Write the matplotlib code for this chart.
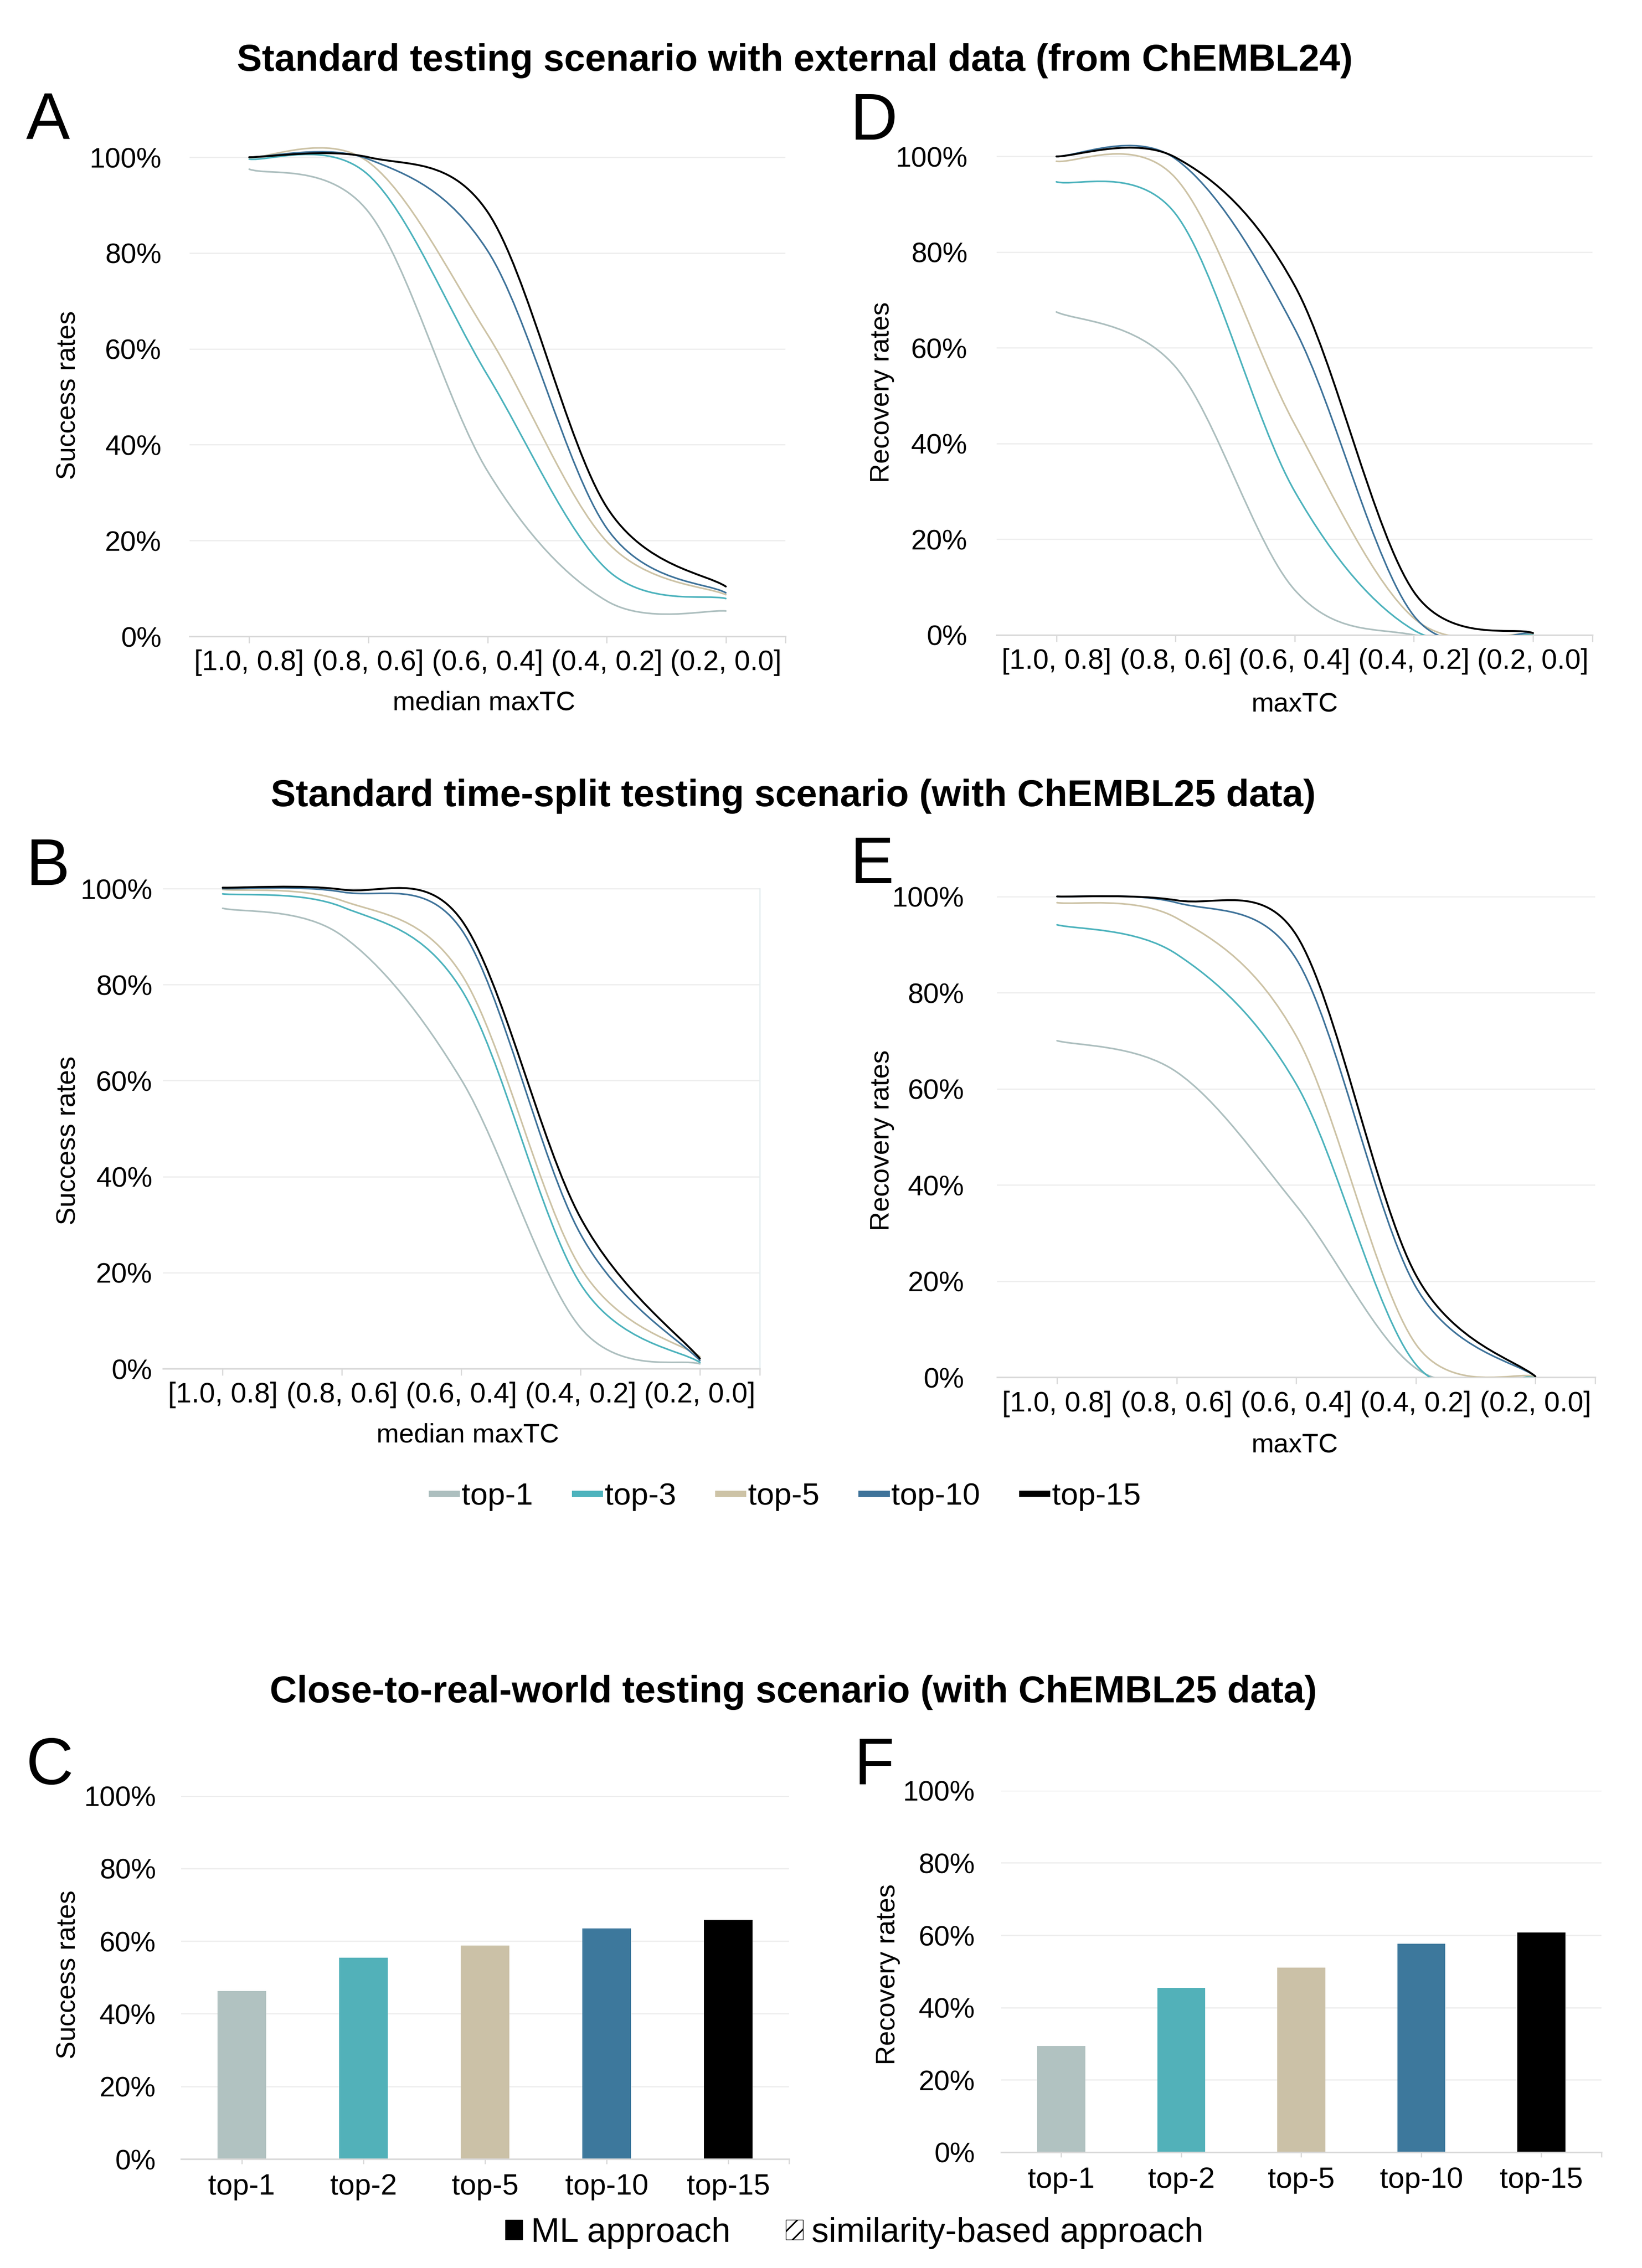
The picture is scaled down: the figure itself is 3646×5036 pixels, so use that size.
import matplotlib
matplotlib.use("Agg")
import matplotlib.pyplot as plt
from matplotlib.patches import Patch, PathPatch
from matplotlib.path import Path
from matplotlib.lines import Line2D
import numpy as np

plt.rcParams["font.family"] = ["Liberation Sans", "DejaVu Sans"]

# ---------------- data ----------------
bins = ["[1.0, 0.8]", "(0.8, 0.6]", "(0.6, 0.4]", "(0.4, 0.2]", "(0.2, 0.0]"]
series_names = ["top-1", "top-3", "top-5", "top-10", "top-15"]

# A: success rates vs median maxTC (ChEMBL24 external data)
A_top1 = [97.5, 88.6, 34.5, 7.4, 5.3]
A_top3 = [99.6, 96.3, 54.5, 14.0, 7.9]
A_top5 = [99.9, 99.0, 63.0, 19.8, 8.7]
A_top10 = [100.0, 99.6, 80.5, 22.6, 9.1]
A_top15 = [100.0, 100.0, 88.6, 27.0, 10.4]

# D: recovery rates vs maxTC (ChEMBL24 external data)
D_top1 = [67.5, 56.0, 9.4, 0.0, 0.0]
D_top3 = [94.7, 88.0, 30.0, 1.0, 0.2]
D_top5 = [99.0, 95.5, 44.0, 3.5, 0.3]
D_top10 = [100.0, 99.5, 64.0, 4.0, 0.4]
D_top15 = [100.0, 99.8, 73.0, 9.0, 0.4]

# B: success rates, time split (ChEMBL25)
B_top1 = [95.9, 90.2, 60.2, 8.5, 1.0]
B_top3 = [98.9, 96.2, 79.0, 17.6, 1.3]
B_top5 = [99.8, 97.5, 82.2, 21.0, 2.5]
B_top10 = [100.0, 99.3, 91.5, 28.0, 1.7]
B_top15 = [100.2, 99.8, 93.5, 31.4, 2.1]

# E: recovery rates, time split (ChEMBL25)
E_top1 = [70.0, 63.5, 35.7, 1.9, 0.0]
E_top3 = [94.1, 88.0, 61.0, 2.7, 0.2]
E_top5 = [98.7, 95.5, 71.0, 6.9, 0.2]
E_top10 = [100.0, 98.7, 87.0, 18.8, 0.2]
E_top15 = [100.0, 99.2, 92.0, 21.3, 0.2]

bar_cats = ["top-1", "top-2", "top-5", "top-10", "top-15"]
C_success = [46.3, 55.4, 58.8, 63.5, 65.9]
F_recovery = [29.4, 45.5, 51.1, 57.6, 60.7]

line_colors = ["#adbfbf", "#4db3bd", "#cdc3a6", "#3f739a", "#000000"]
line_widths = [2.6, 2.6, 2.6, 2.6, 3.0]
bar_colors = ["#b1c2c1", "#52b1b9", "#cbc1a7", "#3d789c", "#000000"]
GRID = "#eeeeee"
AXC = "#d9d9d9"

W, H = 1130.0, 1561.0  # layout reference units


def fx(x):
    return x / W


def fy(y):
    return 1 - y / H


fig = plt.figure(figsize=(36.46, 50.36), dpi=100)


def smooth_path(xs, ys, sx, sy):
    """Excel-style smoothed line: cubic Bezier through the points."""
    P = np.column_stack([np.asarray(xs, float) * sx, np.asarray(ys, float) * sy])
    n = len(P)
    verts = [P[0]]
    codes = [Path.MOVETO]
    for i in range(n - 1):
        p0 = P[i - 1] if i > 0 else P[i]
        p1, p2 = P[i], P[i + 1]
        p3 = P[i + 2] if i + 2 < n else P[i + 1]
        d02 = np.hypot(*(p2 - p0))
        d12 = np.hypot(*(p2 - p1))
        d13 = np.hypot(*(p3 - p1))
        f0 = 1 / 6 if d02 / 6 < d12 / 2 else (d12 / 2) / d02
        f1 = 1 / 6 if d13 / 6 < d12 / 2 else (d12 / 2) / d13
        c1 = p1 + (p2 - p0) * f0
        c2 = p2 - (p3 - p1) * f1
        verts += [c1, c2, p2]
        codes += [Path.CURVE4] * 3
    v = np.array(verts) / [sx, sy]
    return Path(v, codes)


def style_axes(ax, ylim_top, ypad, right_line=False):
    ax.set_ylim(0, ylim_top)
    ax.set_xlim(-0.5, 4.5)
    ax.set_yticks([0, 20, 40, 60, 80, 100])
    ax.set_yticklabels([f"{v}%" for v in [0, 20, 40, 60, 80, 100]])
    ax.yaxis.grid(True, color=GRID, linewidth=2)
    ax.set_axisbelow(True)
    for s in ["top", "left", "right"]:
        ax.spines[s].set_visible(False)
    if right_line:
        ax.spines["right"].set_visible(True)
        ax.spines["right"].set_color("#e6eef0")
        ax.spines["right"].set_linewidth(2)
        ax.spines["right"].set_bounds(0, 100)
    ax.spines["bottom"].set_color(AXC)
    ax.spines["bottom"].set_linewidth(2.5)
    ax.tick_params(axis="y", length=0, pad=ypad, labelsize=45)


def line_panel(rect, data, ypad, right_line=False):
    ax = fig.add_axes(rect)
    ytop = 103
    # display size of one x unit and one percent, for the smoothing
    sx = rect[2] * W / 5.0
    sy = rect[3] * H / ytop
    xs = np.arange(len(bins))
    for vals, c, lw in zip(data, line_colors, line_widths):
        path = smooth_path(xs, vals, sx, sy)
        ax.add_patch(PathPatch(path, facecolor="none", edgecolor=c, linewidth=lw,
                               capstyle="round", joinstyle="round", zorder=3))
    style_axes(ax, ytop, ypad, right_line)
    ax.set_xticks([0, 1, 2, 3, 4, 4.5])
    ax.set_xticklabels(bins + [""])
    ax.tick_params(axis="x", length=11, width=2, color=AXC, pad=10, labelsize=45)
    return ax


def bar_panel(rect, vals, ypad):
    ax = fig.add_axes(rect)
    ax.bar(range(len(bar_cats)), vals, width=0.4, color=bar_colors)
    style_axes(ax, 100, ypad)
    ax.set_xticks([0, 1, 2, 3, 4, 4.5])
    ax.set_xticklabels(bar_cats + [""])
    ax.tick_params(axis="x", length=8, width=2, color=AXC, pad=15, labelsize=47)
    return ax


# axes rectangle from layout units (left, y of 0% line, width, units per %, top %)
def rect(left, y0, width, per, top):
    return [fx(left), fy(y0), width / W, per * top / H]


line_panel(rect(130.5, 438, 410, 3.298, 103), [A_top1, A_top3, A_top5, A_top10, A_top15], 45)
line_panel(rect(686, 437, 410, 3.293, 103), [D_top1, D_top3, D_top5, D_top10, D_top15], 47)
line_panel(rect(112.2, 942, 410.5, 3.304, 103), [B_top1, B_top3, B_top5, B_top10, B_top15], 17,
           right_line=True)
line_panel(rect(686.3, 948, 411.5, 3.31, 103), [E_top1, E_top3, E_top5, E_top10, E_top15], 53)
bar_panel(rect(124.5, 1486, 418.5, 2.5, 100), C_success, 40)
bar_panel(rect(689, 1481.3, 413, 2.489, 100), F_recovery, 42)

# titles
title_kw = dict(ha="center", va="center", fontsize=60, fontweight="bold")
fig.text(fx(547), fy(42), "Standard testing scenario with external data (from ChEMBL24)", **title_kw)
fig.text(fx(546), fy(548), "Standard time-split testing scenario (with ChEMBL25 data)", **title_kw)
fig.text(fx(546), fy(1165), "Close-to-real-world testing scenario (with ChEMBL25 data)", **title_kw)

# panel letters
for letter, x, y in [("A", 18, 96), ("D", 585, 96), ("B", 18, 609), ("E", 585, 608),
                     ("C", 18, 1228), ("F", 588, 1228)]:
    fig.text(fx(x), fy(y), letter, ha="left", va="baseline", fontsize=105)

# axis labels
for txt, x, y in [("Success rates", 47, 272), ("Recovery rates", 607, 270),
                  ("Success rates", 47, 785), ("Recovery rates", 607, 785),
                  ("Success rates", 47, 1359), ("Recovery rates", 611, 1359)]:
    fig.text(fx(x), fy(y), txt, rotation=90, ha="center", va="center", fontsize=43)

for txt, x, y in [("median maxTC", 333, 484), ("maxTC", 891, 485),
                  ("median maxTC", 322, 988), ("maxTC", 891, 995)]:
    fig.text(fx(x), fy(y), txt, ha="center", va="center", fontsize=43)

# legend for the line panels
handles = [Line2D([0], [0], color=c, linewidth=10, solid_capstyle="butt") for c in line_colors]
fig.legend(handles, series_names, loc="center", bbox_to_anchor=(fx(540), fy(1030)),
           ncol=5, frameon=False, fontsize=50, handlelength=1.0, handletextpad=0.05,
           columnspacing=1.25)

# legend for the bar panels
plt.rcParams["hatch.linewidth"] = 2.5
h2 = [Patch(facecolor="black", edgecolor="black"),
      Patch(facecolor="white", edgecolor="black", hatch="/")]
fig.legend(h2, ["ML approach", "similarity-based approach"], loc="center",
           bbox_to_anchor=(fx(588), fy(1537)), ncol=2, frameon=False, fontsize=55,
           handlelength=0.5, handleheight=0.5, handletextpad=0.25, columnspacing=1.6)

fig.savefig("out.png", dpi=100, facecolor="white")
